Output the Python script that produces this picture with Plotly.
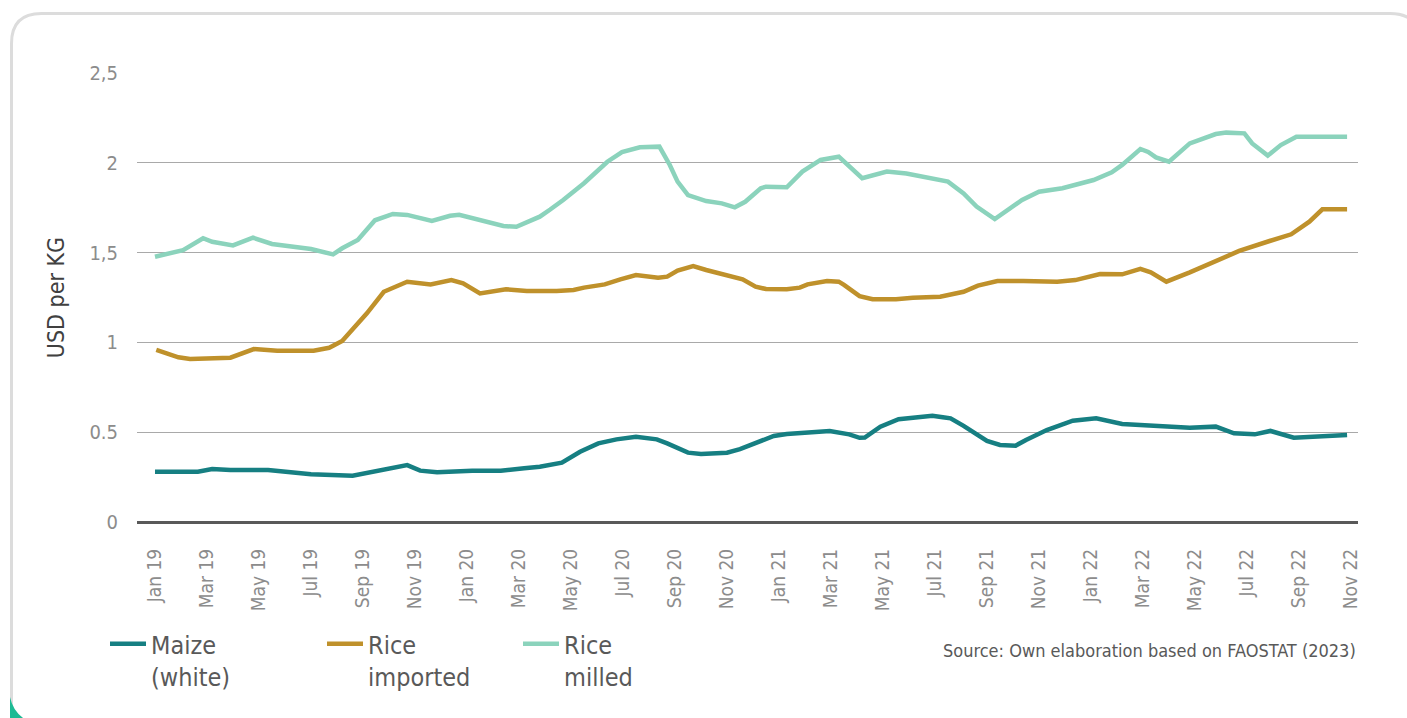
import plotly.graph_objects as go

# ---------------- data (x = months since Jan 2019) ----------------
tick_labels = ["Jan 19", "Mar 19", "May 19", "Jul 19", "Sep 19", "Nov 19",
               "Jan 20", "Mar 20", "May 20", "Jul 20", "Sep 20", "Nov 20",
               "Jan 21", "Mar 21", "May 21", "Jul 21", "Sep 21", "Nov 21",
               "Jan 22", "Mar 22", "May 22", "Jul 22", "Sep 22", "Nov 22"]
y_tick_vals = [0, 0.5, 1, 1.5, 2, 2.5]
y_tick_text = ["0", "0.5", "1", "1,5", "2", "2,5"]

maize_month = [0, 1.65, 2.2, 2.9, 4.35, 4.9, 6.0, 7.6, 8.65, 9.7, 10.2, 10.85,
               12.2, 13.3, 14.2, 14.8, 15.65, 16.35, 17.05, 17.75, 18.5, 19.3,
               19.7, 20.5, 21.0, 22.0, 22.5, 23.15, 23.8, 24.3, 25.6, 25.95,
               26.7, 27.1, 27.3, 27.9, 28.6, 29.3, 29.9, 30.3, 30.6, 31.1,
               32.0, 32.5, 33.1, 33.5, 34.3, 35.3, 36.2, 37.2, 39.8, 40.8,
               41.5, 42.3, 42.9, 43.8, 45.85]
maize_usd = [0.28, 0.28, 0.295, 0.29, 0.29, 0.28, 0.266, 0.258, 0.29, 0.317,
             0.286, 0.277, 0.286, 0.286, 0.299, 0.308, 0.33, 0.391, 0.438,
             0.46, 0.475, 0.46, 0.438, 0.386, 0.379, 0.386, 0.406, 0.442,
             0.479, 0.49, 0.508, 0.507, 0.488, 0.469, 0.47, 0.531, 0.572,
             0.586, 0.592, 0.583, 0.577, 0.535, 0.451, 0.429, 0.425, 0.457,
             0.512, 0.564, 0.577, 0.546, 0.525, 0.531, 0.494, 0.488, 0.507,
             0.469, 0.484]

rice_imp_month = [0.05, 0.9, 1.35, 2.9, 3.8, 4.7, 6.1, 6.7, 7.2, 8.15, 8.8, 9.4,
                  9.7, 10.6, 11.4, 11.85, 12.5, 13.5, 14.3, 15.45, 16.1, 16.5,
                  17.3, 17.9, 18.5, 19.35, 19.7, 20.1, 20.7, 21.2, 21.9, 22.6,
                  23.1, 23.5, 24.3, 24.8, 25.1, 25.85, 26.3, 26.5, 27.1, 27.6,
                  28.5, 29.15, 30.2, 31.1, 31.65, 32.4, 33.4, 34.7, 35.4, 35.85,
                  36.35, 37.2, 37.9, 38.3, 38.9, 39.8, 40.7, 41.7, 42.9, 43.7,
                  44.4, 44.9, 45.85]
rice_imp_usd = [0.958, 0.917, 0.908, 0.915, 0.963, 0.954, 0.954, 0.97, 1.008,
                1.162, 1.282, 1.316, 1.338, 1.323, 1.347, 1.329, 1.273, 1.296,
                1.286, 1.286, 1.292, 1.305, 1.323, 1.351, 1.375, 1.36, 1.366,
                1.40, 1.425, 1.403, 1.375, 1.351, 1.31, 1.297, 1.296, 1.305,
                1.323, 1.342, 1.338, 1.32, 1.258, 1.24, 1.24, 1.249, 1.254,
                1.282, 1.316, 1.342, 1.342, 1.338, 1.347, 1.366, 1.381, 1.379,
                1.409, 1.39, 1.338, 1.39, 1.444, 1.509, 1.566, 1.602, 1.672,
                1.741, 1.741]

rice_mil_month = [0, 1.08, 1.85, 2.2, 3.0, 3.77, 4.5, 5.6, 6.0, 6.85, 7.2, 7.8,
                  8.46, 9.15, 9.7, 10.65, 11.35, 11.7, 12.4, 13.4, 13.9, 14.8,
                  15.2, 15.7, 16.5, 17.4, 17.96, 18.65, 19.4, 19.8, 20.1, 20.5,
                  21.2, 21.8, 22.3, 22.7, 23.3, 23.5, 24.3, 24.9, 25.6, 26.3,
                  27.2, 28.15, 28.9, 30.5, 31.1, 31.6, 32.3, 33.35, 34.0, 34.9,
                  36.1, 36.8, 37.2, 37.9, 38.2, 38.5, 39.0, 39.8, 40.8, 41.2,
                  41.9, 42.2, 42.8, 43.3, 43.9, 45.85]
rice_mil_usd = [1.477, 1.514, 1.58, 1.56, 1.54, 1.583, 1.548, 1.524, 1.52, 1.49,
                1.524, 1.57, 1.68, 1.715, 1.71, 1.676, 1.705, 1.711, 1.687,
                1.648, 1.644, 1.70, 1.74, 1.793, 1.886, 2.006, 2.06, 2.086,
                2.09, 1.988, 1.895, 1.82, 1.787, 1.774, 1.752, 1.783, 1.858,
                1.867, 1.864, 1.951, 2.016, 2.034, 1.914, 1.951, 1.94, 1.895,
                1.83, 1.756, 1.687, 1.793, 1.839, 1.858, 1.904, 1.947, 1.988,
                2.077, 2.06, 2.03, 2.006, 2.108, 2.16, 2.168, 2.164, 2.108,
                2.04, 2.099, 2.145, 2.145]

series_names = ["Maize<br>(white)", "Rice<br>imported", "Rice<br>milled"]
colors = ["#167F82", "#BF912B", "#8BD3BC"]

# ---------------- layout geometry ----------------
W, H = 1407, 718
ML, MR, MT, MB = 137, 49, 73, 196
PW, PH = W - ML - MR, H - MT - MB

def px(x):
    return (x - ML) / PW

def py(y):
    return (H - MB - y) / PH

FONT = "DejaVu Sans Condensed, Liberation Sans Narrow, Arial Narrow, sans-serif"

fig = go.Figure()
data = [(maize_month, maize_usd), (rice_imp_month, rice_imp_usd),
        (rice_mil_month, rice_mil_usd)]
legends = ["legend", "legend2", "legend3"]
for (xm, yv), name, col, lg in zip(data, series_names, colors, legends):
    fig.add_trace(go.Scatter(x=xm, y=yv, mode="lines", name=name,
                             line=dict(color=col, width=4.5),
                             legend=lg, hoverinfo="skip"))

leg_common = dict(orientation="h", font=dict(family=FONT, size=25, color="#595959"),
                  bgcolor="rgba(0,0,0,0)", borderwidth=0, xanchor="left",
                  yanchor="top", valign="top", itemwidth=36)
leg_y = py(621)

fig.update_layout(
    width=W, height=H,
    margin=dict(l=ML, r=MR, t=MT, b=MB, pad=0),
    paper_bgcolor="white", plot_bgcolor="white",
    showlegend=True,
    legend=dict(x=px(105), y=leg_y, **leg_common),
    legend2=dict(x=px(322), y=leg_y, **leg_common),
    legend3=dict(x=px(518), y=leg_y, **leg_common),
    xaxis=dict(range=[-0.692, 46.27], tickmode="array",
               tickvals=[2 * i for i in range(len(tick_labels))],
               ticktext=tick_labels, tickangle=-90,
               tickfont=dict(family=FONT, size=19, color="#8C8C8C"),
               showgrid=False, zeroline=False, showline=False,
               ticks="", ticklabelstandoff=22, fixedrange=True),
    yaxis=dict(range=[0, 2.5], tickmode="array", tickvals=y_tick_vals,
               ticktext=y_tick_text,
               tickfont=dict(family=FONT, size=20, color="#8C8C8C"),
               showgrid=True, gridcolor="#A9A9A9", gridwidth=1.3,
               zeroline=True, zerolinecolor="#595959", zerolinewidth=2.5,
               showline=False, ticks="", ticklabelstandoff=18,
               title=dict(text="USD per KG", standoff=18,
                          font=dict(family=FONT, size=23, color="#404040")),
               fixedrange=True),
)

fig.add_annotation(x=px(1358), y=py(650), xref="paper", yref="paper",
                   xanchor="right", yanchor="middle", showarrow=False,
                   text="Source: Own elaboration based on FAOSTAT (2023)",
                   font=dict(family=FONT, size=18, color="#595959"))

# card border (rounded rectangle) and corner accent
r = 30
x0, y0, x1, y1 = 11.5, 13.5, 1420, 735
pts = (f"M {px(x0)},{py(y0 + r)} "
       f"Q {px(x0)},{py(y0)} {px(x0 + r)},{py(y0)} "
       f"L {px(x1 - r)},{py(y0)} "
       f"Q {px(x1)},{py(y0)} {px(x1)},{py(y0 + r)} "
       f"L {px(x1)},{py(y1)} "
       f"L {px(x0 + r)},{py(y1)} "
       f"Q {px(x0)},{py(y1)} {px(x0)},{py(y1 - r)} Z")
fig.add_shape(type="path", xref="paper", yref="paper", path=pts,
              line=dict(color="#DCDCDC", width=3), fillcolor="rgba(0,0,0,0)",
              layer="below")
accent = (f"M {px(10)},{py(697)} L {px(10)},{py(720)} L {px(26)},{py(720)} "
          f"Q {px(13)},{py(712)} {px(10)},{py(697)} Z")
fig.add_shape(type="path", xref="paper", yref="paper", path=accent,
              line=dict(width=0), fillcolor="#1DBA94", layer="above")

fig.write_html("out.html", config={"displayModeBar": False})
